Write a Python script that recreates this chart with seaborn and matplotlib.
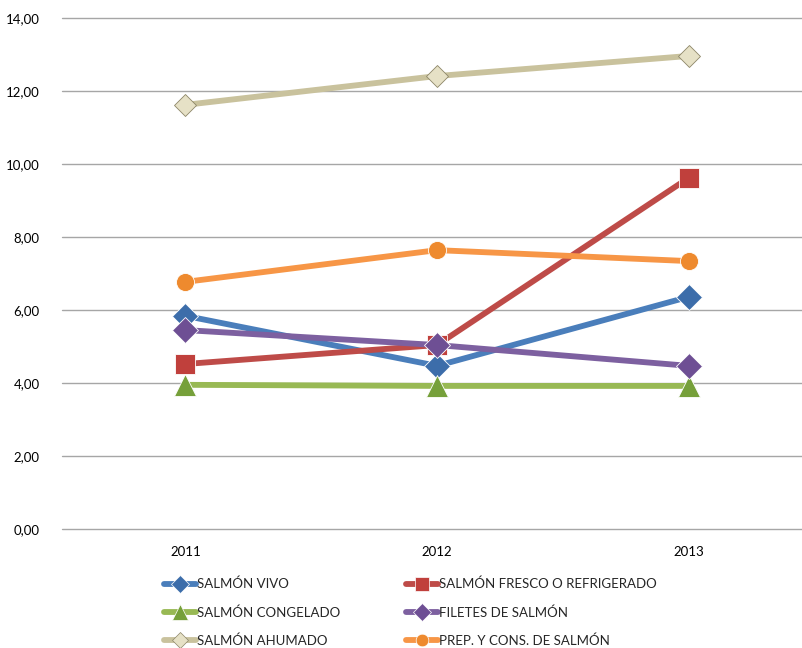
import seaborn as sns
import matplotlib.pyplot as plt
import matplotlib.ticker as mticker
from matplotlib.lines import Line2D
import pandas as pd

years = ['2011', '2012', '2013']

salmon_vivo = [5.84, 4.47, 6.36]
salmon_fresco = [4.52, 5.04, 9.62]
salmon_congelado = [3.95, 3.92, 3.92]
filetes = [5.45, 5.04, 4.47]
salmon_ahumado = [11.62, 12.41, 12.96]
prep_cons = [6.77, 7.64, 7.34]

labels = ['SALMÓN VIVO', 'SALMÓN FRESCO O REFRIGERADO', 'SALMÓN CONGELADO',
          'FILETES DE SALMÓN', 'SALMÓN AHUMADO', 'PREP. Y CONS. DE SALMÓN']
series = [salmon_vivo, salmon_fresco, salmon_congelado, filetes, salmon_ahumado, prep_cons]

# colores estilo Excel 2010
line_colors = ['#4A7EBB', '#BE4B48', '#98B954', '#7D60A0', '#C9C29D', '#F79646']
marker_colors = ['#3C6DAA', '#C0403C', '#76A03A', '#6E4F94', '#E6E1C6', '#EE8A2E']
edge_colors = ['white', 'white', 'white', 'white', '#8C8668', 'white']
markers = ['D', 's', '^', 'D', 'D', 'o']
msizes = [13, 15, 16, 13, 11, 13]

sns.set_style('white')
plt.rcParams['font.family'] = ['Lato', 'DejaVu Sans']

fig = plt.figure(figsize=(8.03, 6.48), dpi=100)
ax = fig.add_axes([62 / 803, 1 - 529 / 648, 745 / 803, 511 / 648])

for lab, vals, lc, mc, ec, mk, ms in zip(labels, series, line_colors, marker_colors,
                                         edge_colors, markers, msizes):
    df = pd.DataFrame({'year': years, 'value': vals})
    sns.lineplot(data=df, x='year', y='value', ax=ax, color=lc, linewidth=4.2,
                 marker=mk, markersize=ms, markerfacecolor=mc,
                 markeredgecolor=ec, markeredgewidth=0.6, label=lab, legend=False)

ax.set_ylim(0, 14)
ax.set_xlim(-0.49, 2.47)
ax.yaxis.set_major_locator(mticker.MultipleLocator(2))
ax.yaxis.set_major_formatter(mticker.FuncFormatter(lambda v, p: f'{v:.2f}'.replace('.', ',')))
ax.grid(axis='y', color='#A6A6A6', linewidth=1)
for gl in ax.get_ygridlines():
    gl.set_clip_on(False)
ax.set_axisbelow(True)
for s in ax.spines.values():
    s.set_visible(False)
ax.tick_params(axis='both', length=0, labelsize=9.5, colors='#000000')
ax.tick_params(axis='y', pad=16)
ax.tick_params(axis='x', pad=12)
ax.set_xlabel('')
ax.set_ylabel('')

handles = [Line2D([0], [0], color=lc, linewidth=4.2, marker=mk, markersize=ms * 0.7,
                  markerfacecolor=mc, markeredgecolor=ec, markeredgewidth=0.5)
           for lc, mc, ec, mk, ms in zip(line_colors, marker_colors, edge_colors, markers, msizes)]
# orden por filas (la leyenda de matplotlib rellena por columnas)
order = [0, 2, 4, 1, 3, 5]
fig.legend([handles[i] for i in order], [labels[i] for i in order],
           loc='upper left', bbox_to_anchor=(152 / 803, 1 - 566 / 648),
           ncol=2, frameon=False, fontsize=9.5, handlelength=2.4, handletextpad=0.1,
           columnspacing=5.0, labelspacing=1.2)

fig.savefig('out.png', dpi=100)
